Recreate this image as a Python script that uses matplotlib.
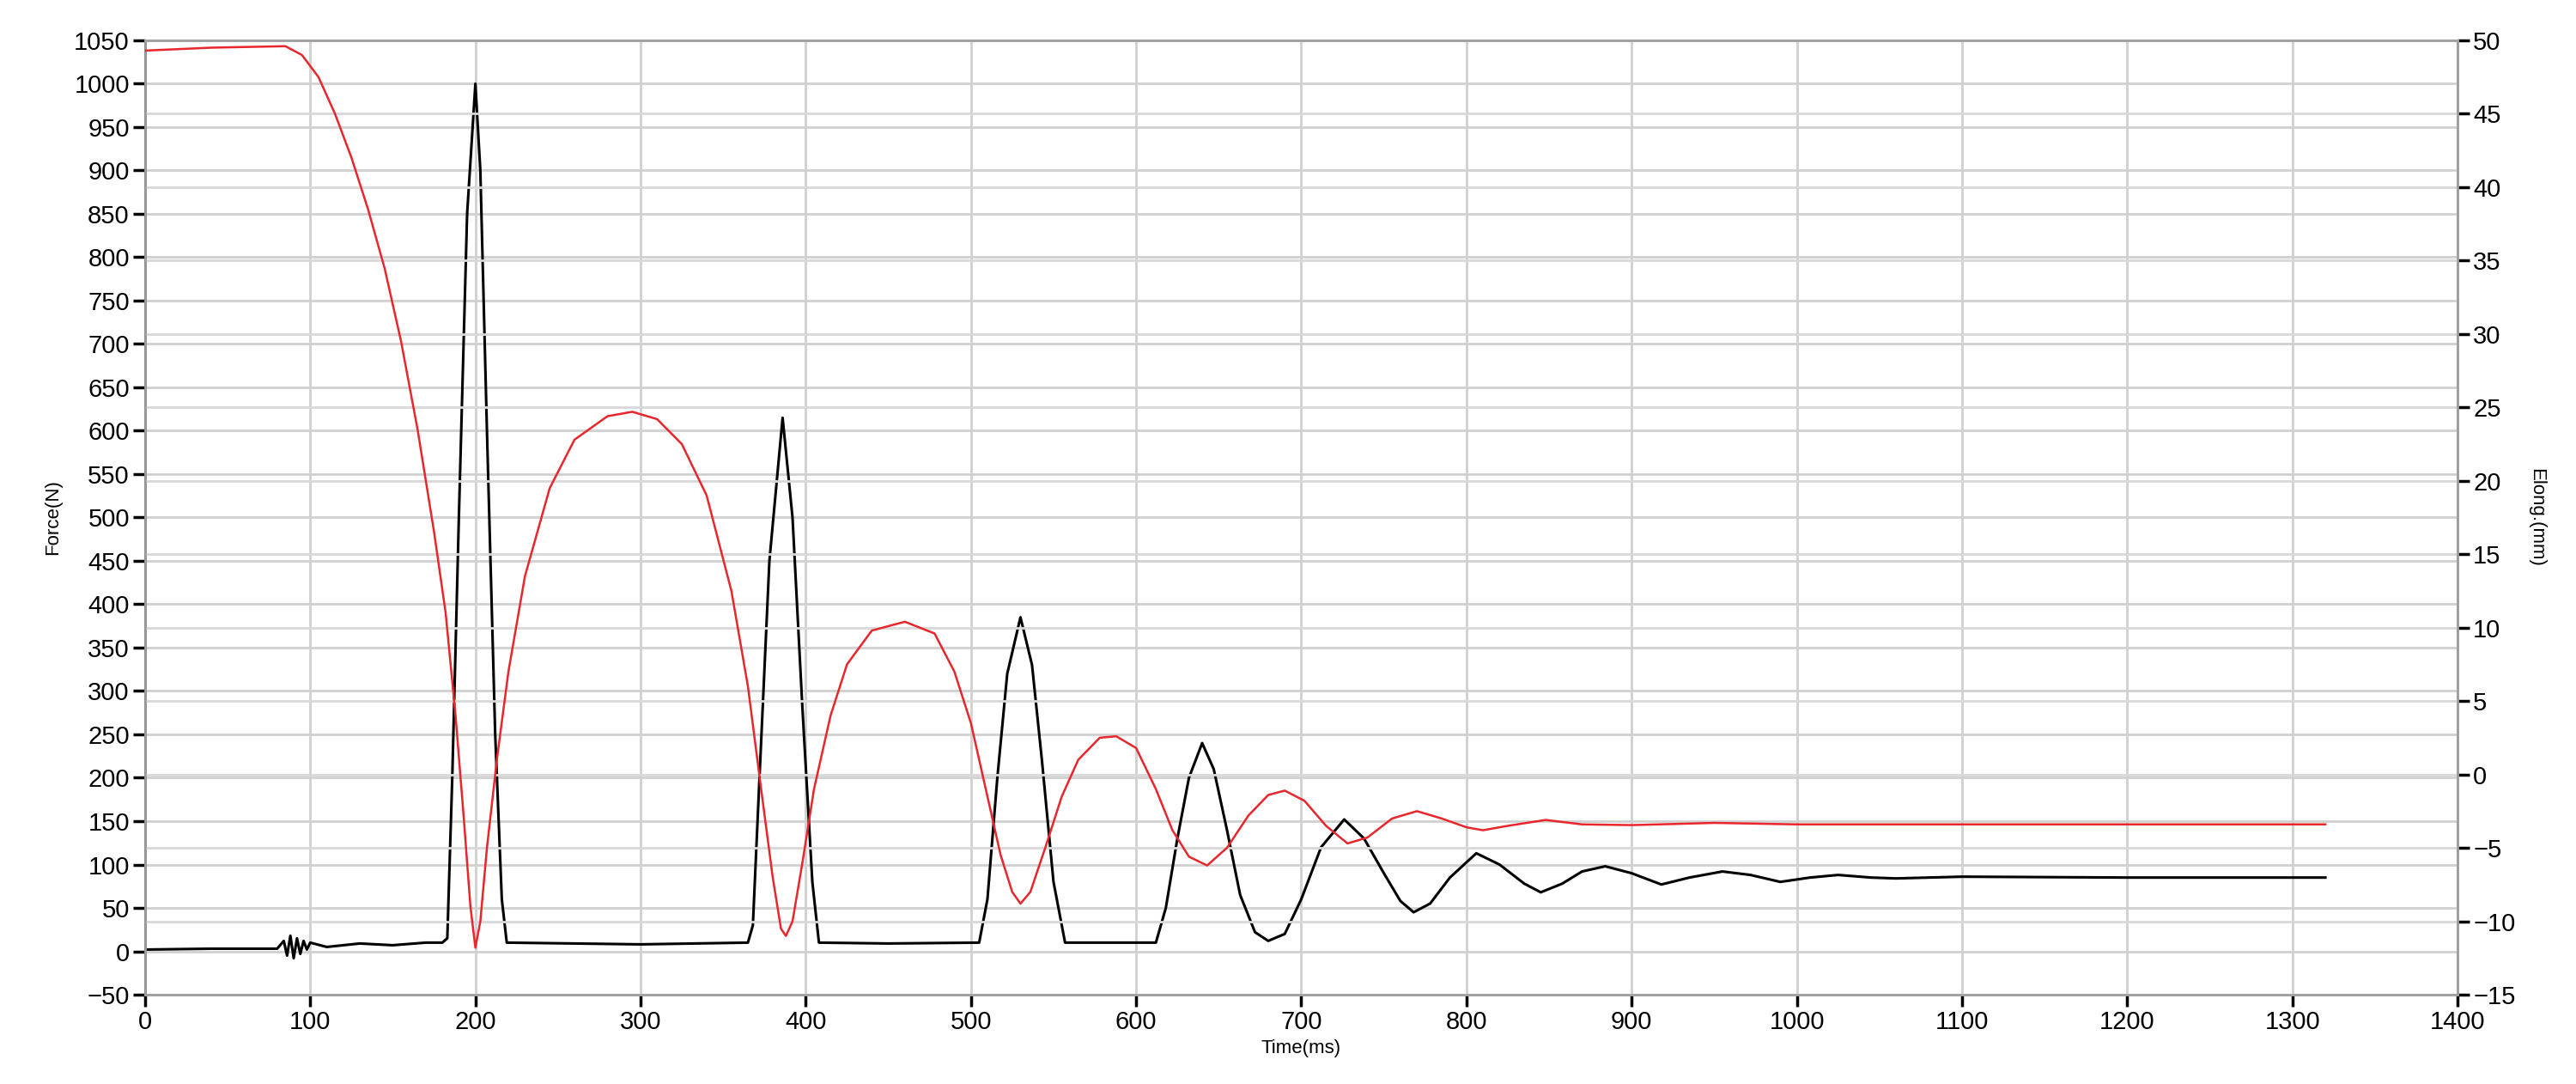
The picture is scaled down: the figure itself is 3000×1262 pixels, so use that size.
import matplotlib
matplotlib.use("Agg")
import matplotlib.pyplot as plt
import numpy as np

plt.rcParams['font.family'] = ['Liberation Sans', 'DejaVu Sans']

force_t = [0, 40, 80, 84, 86, 88, 90, 92, 94, 96, 98, 100, 110, 130, 150, 170, 180, 183, 186, 190, 195, 200, 203, 207, 212, 216, 219,
           260, 300, 365, 368, 372, 378, 386, 392, 398, 404, 408, 450, 505, 510, 516, 522, 530, 537, 543, 550, 557,
           612, 618, 625, 632, 640, 647, 655, 663, 672, 680, 690, 700, 712, 726, 738, 750, 760, 768, 778, 790, 806,
           820, 835, 845, 858, 870, 884, 900, 918, 935, 955, 972, 990, 1008, 1025, 1045, 1060, 1100, 1200, 1320]
force_v = [2, 3, 3, 12, -5, 18, -8, 15, -3, 12, 2, 10, 5, 9, 7, 10, 10, 15, 200, 500, 850, 1000, 900, 600, 250, 60, 10,
           9, 8, 10, 30, 200, 450, 615, 500, 280, 80, 10, 9, 10, 60, 200, 320, 385, 330, 220, 80, 10,
           10, 50, 130, 200, 240, 210, 140, 65, 22, 12, 20, 60, 120, 152, 130, 90, 58, 45, 55, 85, 113,
           100, 78, 68, 78, 92, 98, 90, 77, 85, 92, 88, 80, 85, 88, 85, 84, 86, 85, 85]

elong_t = [0, 40, 85, 95, 105, 115, 125, 135, 145, 155, 165, 175, 182, 188, 193, 197, 200, 203, 207, 213, 220, 230, 245, 260,
           280, 295, 310, 325, 340, 355, 365, 373, 380, 385, 388, 392, 398, 405, 415, 425, 440, 460, 478, 490, 500,
           510, 518, 525, 530, 536, 545, 555, 565, 578, 588, 600, 612, 622, 632, 643, 655, 668, 680, 690, 702, 715,
           728, 740, 755, 770, 785, 800, 810, 825, 848, 870, 900, 950, 1000, 1320]
elong_v = [49.3, 49.5, 49.6, 49.0, 47.5, 45, 42, 38.5, 34.5, 29.5, 23.5, 16.5, 11, 4, -3, -9, -11.8, -10, -5, 1, 7, 13.5, 19.5, 22.8,
           24.4, 24.7, 24.2, 22.5, 19, 12.5, 6, -1, -7, -10.5, -11, -10, -6, -1, 4, 7.5, 9.8, 10.4, 9.6, 7, 3.5,
           -1.5, -5.5, -8, -8.8, -8, -5, -1.5, 1, 2.5, 2.6, 1.8, -1, -3.8, -5.6, -6.2, -5, -2.8, -1.4, -1.1, -1.8, -3.5,
           -4.7, -4.3, -3.0, -2.5, -3.0, -3.6, -3.8, -3.5, -3.1, -3.4, -3.45, -3.3, -3.4, -3.4]

x_ticks = list(range(0, 1401, 100))
force_ticks = list(range(-50, 1051, 50))
elong_ticks = list(range(-15, 51, 5))

fig = plt.figure(figsize=(30, 12.62), dpi=100)
ax = fig.add_axes([0.0563, 0.0824, 0.8977, 0.8804])
ax2 = ax.twinx()

ax.plot(force_t, force_v, color='black', lw=2.2, zorder=3)
ax2.plot(elong_t, elong_v, color='#e8262b', lw=1.8, zorder=3)

ax.set_xlim(0, 1400)
ax.set_ylim(-50, 1050)
ax2.set_ylim(-15, 50)
ax.set_xticks(x_ticks)
ax.set_yticks(force_ticks)
ax2.set_yticks(elong_ticks)

ax.grid(True, color='#d0d0d0', lw=2)
ax2.grid(True, axis='y', color='#d8d8d8', lw=2)
ax.set_axisbelow(True)
ax2.set_zorder(ax.get_zorder() - 1) if False else None

for a in (ax, ax2):
    a.tick_params(labelsize=21, length=10, width=2.5, color='black', pad=3)
    for s in a.spines.values():
        s.set_color('#a0a0a0')
        s.set_linewidth(2)
ax.spines['left'].set_color('black')
ax.spines['bottom'].set_color('#a0a0a0')

ax.set_xlabel('Time(ms)', fontsize=16, labelpad=4)
ax.set_ylabel('Force(N)', fontsize=16, labelpad=10)
ax2.set_ylabel('Elong.(mm)', fontsize=16, rotation=-90, labelpad=25)

fig.savefig('out.png', dpi=100, facecolor='white')
